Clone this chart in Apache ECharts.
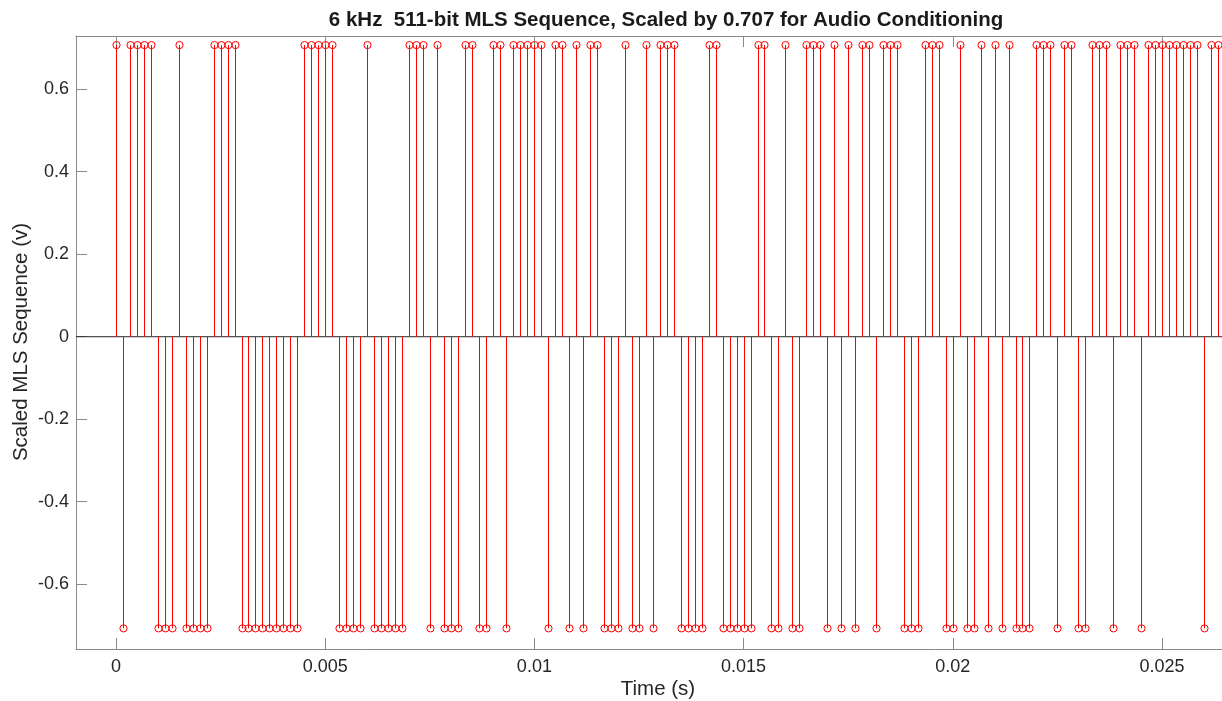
<!DOCTYPE html>
<html>
<head>
<meta charset="utf-8">
<title>MLS Sequence</title>
<script src="https://cdn.jsdelivr.net/npm/echarts@6.0.0/dist/echarts.min.js"></script>
<style>
  html, body { margin: 0; padding: 0; background: #ffffff; }
  #chart { width: 1222px; height: 701px; }
</style>
</head>
<body>
<div id="chart"></div>
<script>
// Sampling and amplitude of the stimulus
const SAMPLE_RATE = 6000;      // Hz
const AMPLITUDE = 0.707;       // scale applied to the +/-1 MLS bits

// First 159 chips of the 511-bit maximum length sequence (+1 / -1)
const mlsBits = [
   1,-1, 1, 1, 1, 1,-1,-1,-1, 1,-1,-1,-1,-1, 1, 1, 1, 1,-1,-1,
  -1,-1,-1,-1,-1,-1,-1, 1, 1, 1, 1, 1,-1,-1,-1,-1, 1,-1,-1,-1,
  -1,-1, 1, 1, 1,-1, 1,-1,-1,-1, 1, 1,-1,-1, 1, 1,-1, 1, 1, 1,
   1, 1,-1, 1, 1,-1, 1,-1, 1, 1,-1,-1,-1, 1,-1,-1, 1,-1, 1, 1,
   1,-1,-1,-1,-1, 1, 1,-1,-1,-1,-1,-1, 1, 1,-1,-1, 1,-1,-1, 1,
   1, 1,-1, 1,-1, 1,-1, 1, 1,-1, 1, 1, 1,-1,-1,-1, 1, 1, 1,-1,
  -1, 1,-1,-1, 1,-1, 1,-1, 1,-1,-1,-1, 1, 1, 1,-1, 1, 1,-1,-1,
   1, 1, 1,-1, 1, 1, 1,-1, 1, 1, 1, 1, 1, 1, 1, 1,-1, 1, 1
];

// Axis ticks
const xTickValues = [0, 0.005, 0.01, 0.015, 0.02, 0.025];
const xTickLabels = ['0', '0.005', '0.01', '0.015', '0.02', '0.025'];
const yTickValues = [-0.6, -0.4, -0.2, 0, 0.2, 0.4, 0.6];
const yTickLabels = ['-0.6', '-0.4', '-0.2', '0', '0.2', '0.4', '0.6'];

// Visible axis limits
const X_MIN = -0.000956, X_MAX = 0.026435;
const Y_MIN = -0.757, Y_MAX = 0.729;

// Samples: time of each chip and its scaled level
const samples = mlsBits.map((b, n) => [n / SAMPLE_RATE, b * AMPLITUDE]);

const AXIS_GRAY = '#8a8a8a';
const TEXT = '#262626';
const FONT = '"Liberation Sans", Arial, Helvetica, sans-serif';

function labelFrom(values, labels) {
  return v => {
    for (let i = 0; i < values.length; i++) {
      if (Math.abs(values[i] - v) < 1e-9) return labels[i];
    }
    return '';
  };
}

const chart = echarts.init(document.getElementById('chart'), null, { renderer: 'canvas' });

const boxAxis = {
  type: 'value',
  min: X_MIN,
  max: X_MAX,
  axisLine: { show: true, onZero: false, lineStyle: { color: AXIS_GRAY, width: 1 } },
  axisTick: { show: true, inside: true, length: 11, customValues: xTickValues,
              lineStyle: { color: AXIS_GRAY, width: 1 } },
  splitLine: { show: false }
};

chart.setOption({
  animation: false,
  backgroundColor: '#ffffff',
  grid: { left: 76, right: 0, top: 36, bottom: 52, containLabel: false },
  xAxis: [
    Object.assign({}, boxAxis, {
      position: 'bottom',
      axisLabel: {
        show: true, customValues: xTickValues,
        formatter: labelFrom(xTickValues, xTickLabels),
        fontSize: 18, color: TEXT, fontFamily: FONT, margin: 9
      }
    }),
    Object.assign({}, boxAxis, {
      position: 'top',
      axisLabel: { show: false }
    })
  ],
  yAxis: {
    type: 'value',
    min: Y_MIN,
    max: Y_MAX,
    axisLine: { show: true, onZero: false, lineStyle: { color: AXIS_GRAY, width: 1 } },
    axisTick: { show: true, inside: true, length: 11, customValues: yTickValues,
                lineStyle: { color: AXIS_GRAY, width: 1 } },
    axisLabel: {
      show: true, customValues: yTickValues,
      formatter: labelFrom(yTickValues, yTickLabels),
      fontSize: 18, color: TEXT, fontFamily: FONT, margin: 7
    },
    splitLine: { show: false }
  },
  series: [
    {
      // stem baseline at zero
      type: 'line',
      data: [[X_MIN, 0], [X_MAX, 0]],
      symbol: 'none',
      silent: true,
      lineStyle: { color: '#262626', width: 1 },
      z: 1
    },
    {
      // stems with open circle markers
      type: 'custom',
      data: samples,
      clip: false,
      z: 2,
      renderItem: function (params, api) {
        const t = api.value(0), v = api.value(1);
        const tip = api.coord([t, v]);
        const base = api.coord([t, 0]);
        const px = Math.round(tip[0]) + 0.5;
        return {
          type: 'group',
          children: [
            { type: 'line',
              shape: { x1: px, y1: base[1], x2: px, y2: tip[1] },
              style: { stroke: '#ff0000', lineWidth: 1 } },
            { type: 'circle',
              shape: { cx: px, cy: tip[1], r: 3.6 },
              style: { fill: 'none', stroke: '#ff0000', lineWidth: 1 } }
          ]
        };
      }
    }
  ],
  graphic: [
    { type: 'text', x: 666, y: 20, silent: true,
      style: { text: '6 kHz  511-bit MLS Sequence, Scaled by 0.707 for Audio Conditioning',
               fill: '#1a1a1a', font: 'bold 20.5px ' + FONT,
               textAlign: 'center', textVerticalAlign: 'middle' } },
    { type: 'text', x: 658, y: 689, silent: true,
      style: { text: 'Time (s)', fill: TEXT, font: '20.5px ' + FONT,
               textAlign: 'center', textVerticalAlign: 'middle' } },
    { type: 'text', x: 21, y: 342, rotation: Math.PI / 2, silent: true,
      style: { text: 'Scaled MLS Sequence (v)', fill: TEXT, font: '20.5px ' + FONT,
               textAlign: 'center', textVerticalAlign: 'middle' } }
  ]
});
</script>
</body>
</html>
